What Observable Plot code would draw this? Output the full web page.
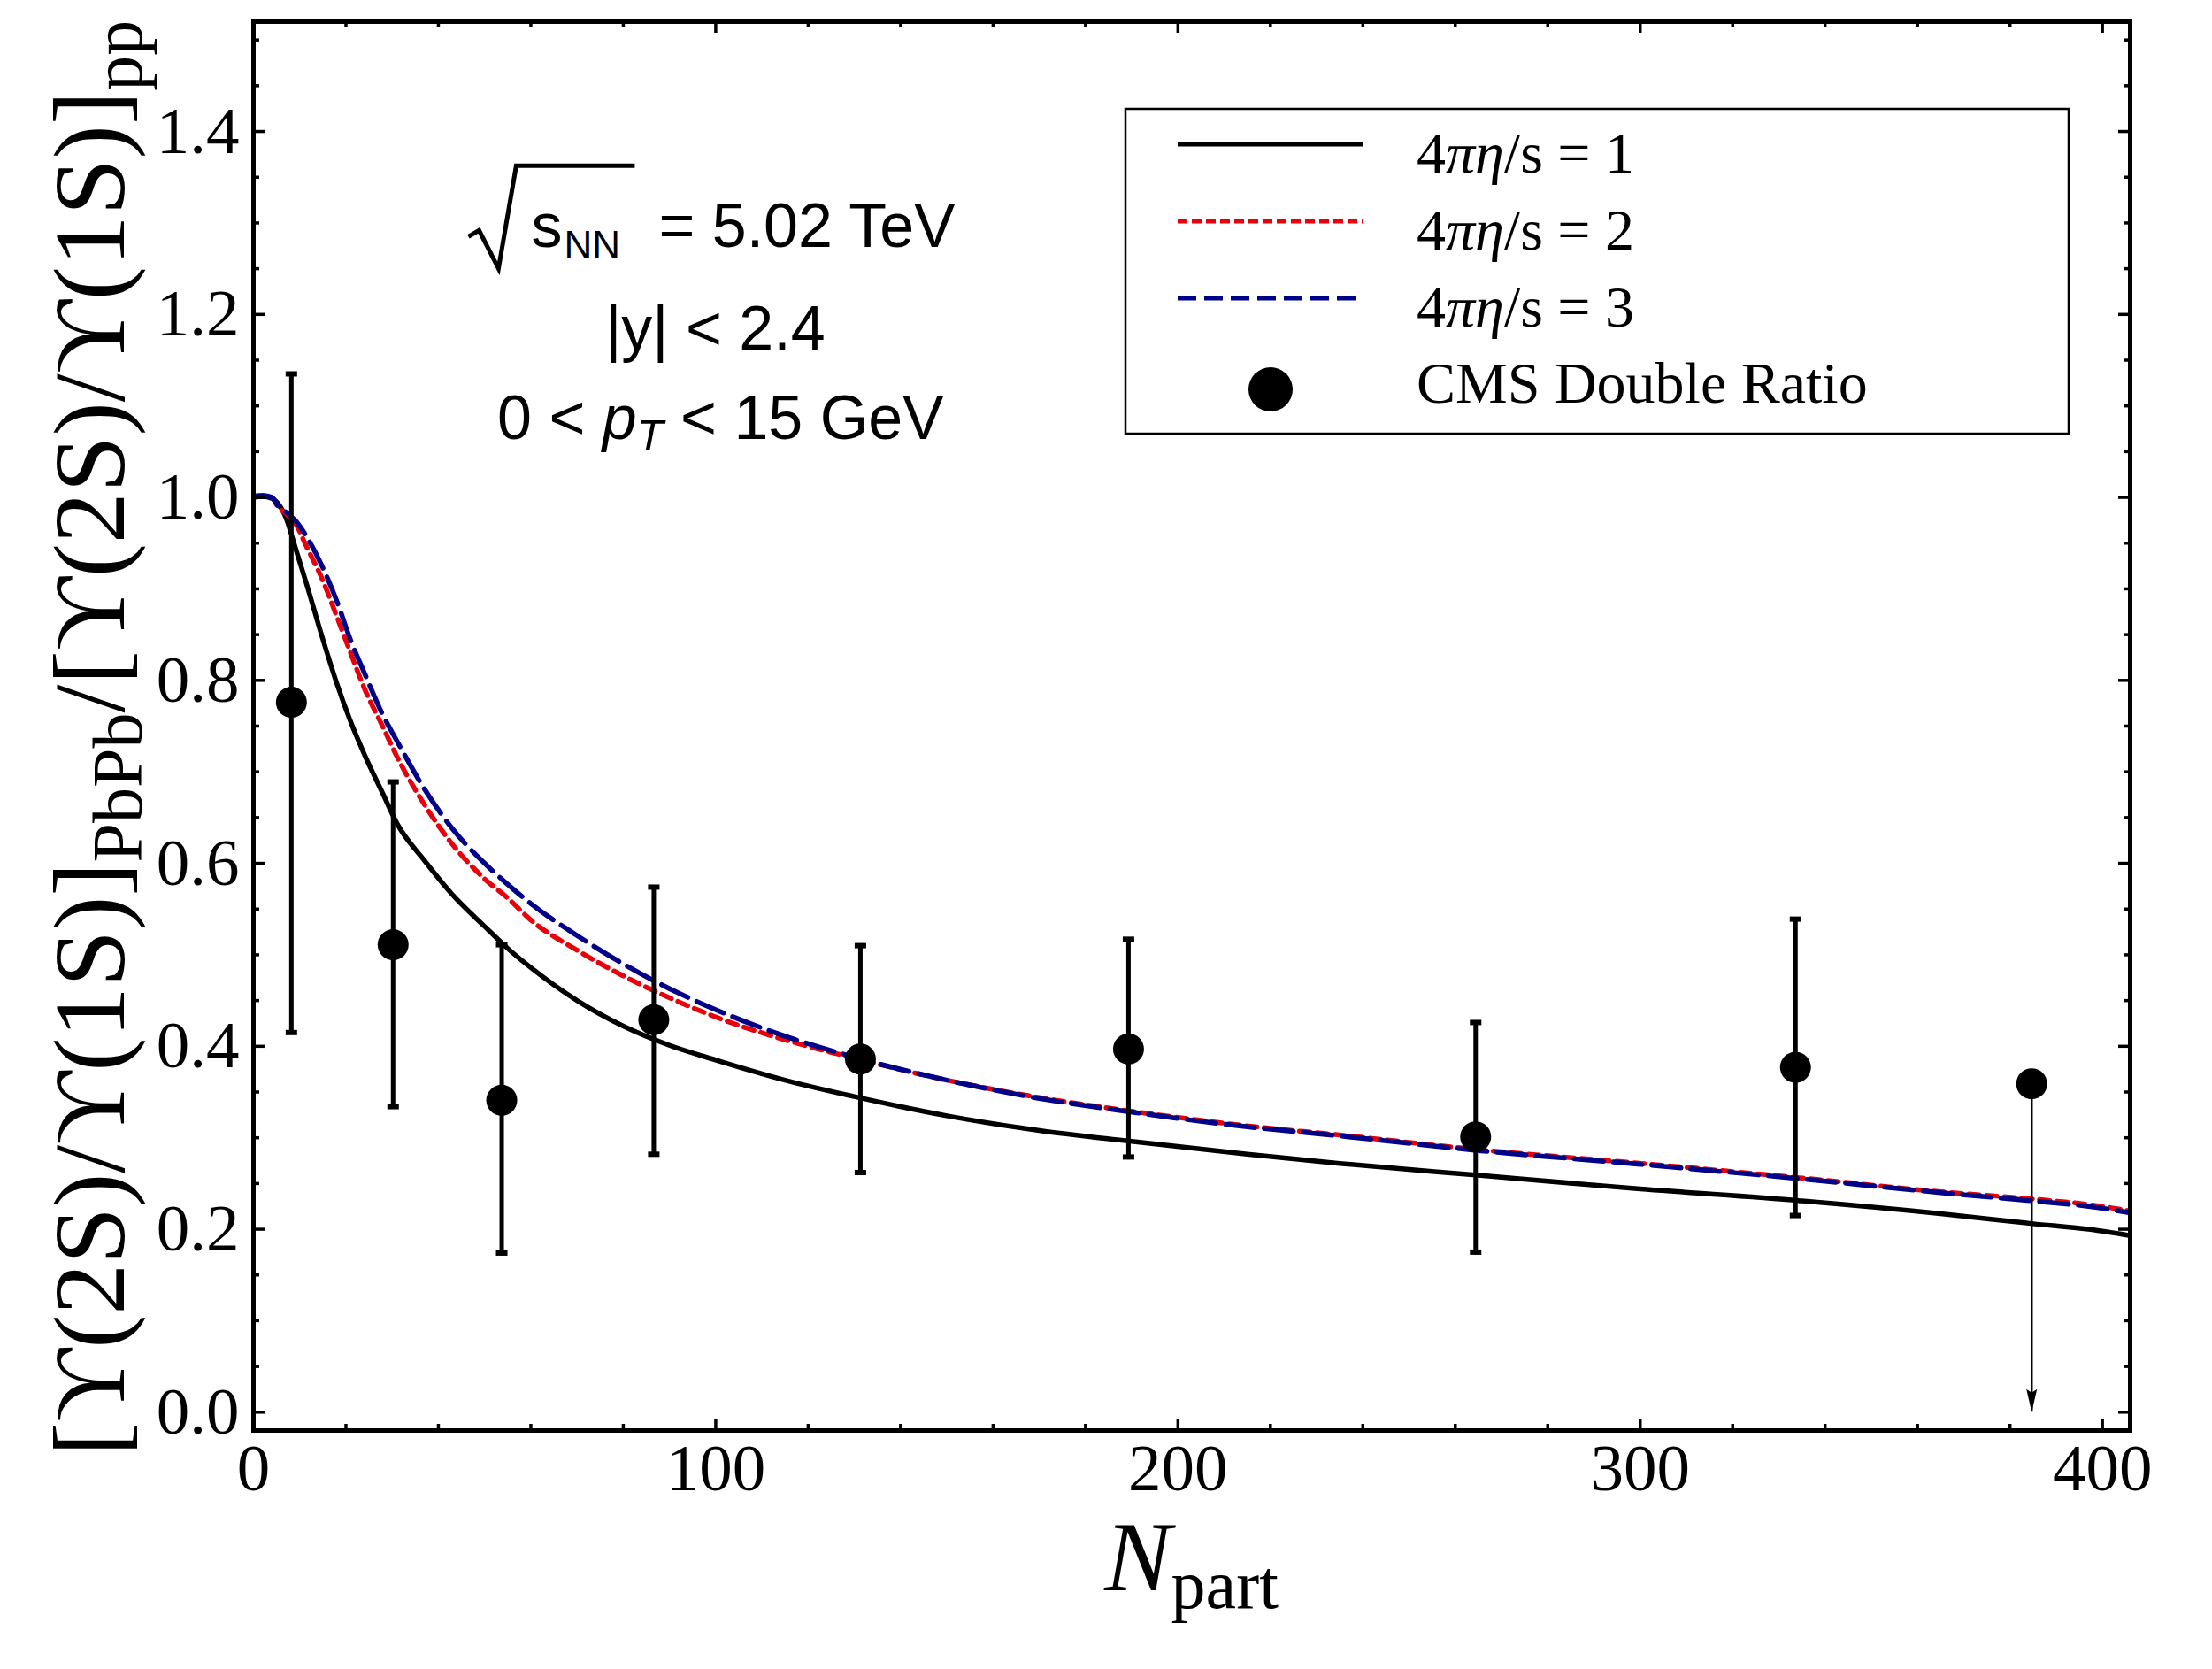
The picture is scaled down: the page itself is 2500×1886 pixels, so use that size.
<!DOCTYPE html>
<html>
<head>
<meta charset="utf-8">
<script src="https://cdn.jsdelivr.net/npm/d3@7"></script>
<script src="https://cdn.jsdelivr.net/npm/@observablehq/plot@0.6"></script>
<style>
  html, body { margin: 0; padding: 0; background: #fff; }
  #chart svg { display: block; }
</style>
</head>
<body>
<div id="chart"></div>
<script>
// Model curves: [Υ(2S)/Υ(1S)]_PbPb / [Υ(2S)/Υ(1S)]_pp versus N_part for 4πη/s = 1, 2, 3
const curveNpart = [0, 2, 4, 5, 7, 9, 11.5, 15, 18, 21, 24, 28, 31, 37, 43, 50, 55, 60, 70, 80, 90, 100, 115, 130, 150, 170, 190, 215, 235, 265, 300, 335, 365, 385, 397, 406];
const ratioEtaS1 = [1.000, 1.001, 0.999, 0.995, 0.978, 0.946, 0.905, 0.845, 0.797, 0.755, 0.719, 0.676, 0.644, 0.603, 0.566, 0.531, 0.507, 0.486, 0.450, 0.422, 0.401, 0.385, 0.363, 0.345, 0.324, 0.308, 0.296, 0.282, 0.272, 0.259, 0.244, 0.231, 0.217, 0.206, 0.200, 0.193];
const ratioEtaS2 = [1.001, 1.002, 1.000, 0.992, 0.982, 0.972, 0.946, 0.909, 0.870, 0.830, 0.791, 0.749, 0.717, 0.664, 0.621, 0.583, 0.562, 0.538, 0.505, 0.477, 0.453, 0.432, 0.407, 0.387, 0.363, 0.344, 0.329, 0.313, 0.303, 0.287, 0.272, 0.256, 0.241, 0.233, 0.227, 0.220];
const ratioEtaS3 = [1.001, 1.002, 1.000, 0.993, 0.984, 0.975, 0.957, 0.923, 0.887, 0.844, 0.808, 0.762, 0.734, 0.681, 0.638, 0.600, 0.577, 0.556, 0.521, 0.490, 0.463, 0.440, 0.411, 0.388, 0.363, 0.343, 0.328, 0.312, 0.302, 0.286, 0.271, 0.255, 0.240, 0.231, 0.225, 0.218];
const etaSValues = ["1", "2", "3"];

// CMS double ratio measurements (last centrality bin is an upper limit)
const cmsNpart = [8.2, 30.2, 53.7, 86.6, 131.3, 189.3, 264.4, 333.6, 384.7];
const cmsRatio = [0.776, 0.511, 0.341, 0.429, 0.386, 0.397, 0.301, 0.377, 0.359];
const cmsErrHigh = [1.135, 0.689, 0.511, 0.574, 0.510, 0.517, 0.426, 0.539, null];
const cmsErrLow = [0.415, 0.334, 0.174, 0.282, 0.262, 0.279, 0.175, 0.215, null];
const cmsUpperLimit = [false, false, false, false, false, false, false, false, true];

// Axis ticks
const xTicksMajor = [0, 100, 200, 300, 400];
const yTicksMajor = [0, 0.2, 0.4, 0.6, 0.8, 1.0, 1.2, 1.4];
const xDomain = [0, 406];
const yDomain = [-0.02, 1.52];

const xTicksMinor = d3.range(20, 406, 20).filter(v => v % 100 !== 0);
const yTicksMinor = d3.range(1, 31).map(k => k * 0.05).filter(v => Math.abs(v / 0.2 - Math.round(v / 0.2)) > 1e-6);

const RED = "#e8000b";
const BLUE = "#000088";

const cms = cmsNpart.map((n, i) => ({
  npart: n, ratio: cmsRatio[i], hi: cmsErrHigh[i], lo: cmsErrLow[i], limit: cmsUpperLimit[i]
}));
const measured = cms.filter(d => !d.limit);
const limits = cms.filter(d => d.limit);

// layout
const W = 2500, H = 1886;
const M = {top: 24, right: 93, bottom: 270, left: 286};
const frameW = W - M.left - M.right;
const frameH = H - M.top - M.bottom;
const majorLen = 13, minorLen = 7;
const LINE_W = 5.5;

// symbols: flat error-bar cap and a narrow arrowhead pointing down
const capSymbol = {draw(ctx) { ctx.rect(-6.5, -3, 13, 6); }};
const arrowHead = {draw(ctx) { ctx.moveTo(0, 0); ctx.lineTo(-6, -26); ctx.lineTo(0, -22); ctx.lineTo(6, -26); ctx.closePath(); }};

const tickStyle = {stroke: "black", strokeWidth: 3.5};

const chart = Plot.plot({
  width: W,
  height: H,
  marginTop: M.top,
  marginRight: M.right,
  marginBottom: M.bottom,
  marginLeft: M.left,
  style: {fontFamily: "'Liberation Serif', 'Times New Roman', serif", fontSize: "75px", color: "black", background: "white"},
  x: {domain: xDomain, axis: null},
  y: {domain: yDomain, axis: null},
  marks: [
    // model curves
    Plot.line(curveNpart, {x: d => d, y: (d, i) => ratioEtaS1[i], stroke: "black", strokeWidth: LINE_W, curve: "monotone-x", clip: true}),
    Plot.line(curveNpart, {x: d => d, y: (d, i) => ratioEtaS2[i], stroke: RED, strokeWidth: LINE_W, strokeDasharray: "12,8", curve: "monotone-x", clip: true}),
    Plot.line(curveNpart, {x: d => d, y: (d, i) => ratioEtaS3[i], stroke: BLUE, strokeWidth: LINE_W, strokeDasharray: "33,11", curve: "monotone-x", clip: true}),

    // CMS error bars with caps
    Plot.ruleX(measured, {x: "npart", y1: "lo", y2: "hi", stroke: "black", strokeWidth: 5}),
    Plot.dot(measured, {x: "npart", y: "hi", symbol: capSymbol, fill: "black"}),
    Plot.dot(measured, {x: "npart", y: "lo", symbol: capSymbol, fill: "black"}),

    // upper limit drawn as an arrow down to zero
    Plot.ruleX(limits, {x: "npart", y1: 0, y2: "ratio", stroke: "black", strokeWidth: 2.5}),
    Plot.dot(limits, {x: "npart", y: 0, symbol: arrowHead, fill: "black"}),

    // CMS points
    Plot.dot(cms, {x: "npart", y: "ratio", r: 17.5, fill: "black"}),

    // inward ticks on all four sides
    Plot.tickX(xTicksMajor, {x: d => d, insetTop: frameH - majorLen, ...tickStyle}),
    Plot.tickX(xTicksMinor, {x: d => d, insetTop: frameH - minorLen, ...tickStyle}),
    Plot.tickX(xTicksMajor, {x: d => d, insetBottom: frameH - majorLen, ...tickStyle}),
    Plot.tickX(xTicksMinor, {x: d => d, insetBottom: frameH - minorLen, ...tickStyle}),
    Plot.tickY(yTicksMajor, {y: d => d, insetRight: frameW - majorLen, ...tickStyle}),
    Plot.tickY(yTicksMinor, {y: d => d, insetRight: frameW - minorLen, ...tickStyle}),
    Plot.tickY(yTicksMajor, {y: d => d, insetLeft: frameW - majorLen, ...tickStyle}),
    Plot.tickY(yTicksMinor, {y: d => d, insetLeft: frameW - minorLen, ...tickStyle}),

    // tick labels
    Plot.axisX({ticks: xTicksMajor, tickSize: 0, tickPadding: 14, tickFormat: d => String(d), label: null}),
    Plot.axisY({ticks: yTicksMajor, tickSize: 0, tickPadding: 16, tickFormat: d3.format(".1f"), label: null}),

    Plot.frame({stroke: "black", strokeWidth: 5})
  ]
});

document.getElementById("chart").appendChild(chart);

const svg = d3.select(chart);
const sx = chart.scale("x"), sy = chart.scale("y");
const SERIF = "'Liberation Serif', 'Times New Roman', serif";
const SANS = "'Liberation Sans', Arial, Helvetica, sans-serif";

// y-axis title
{
  const t = svg.append("text")
    .attr("transform", `translate(140, ${M.top + frameH / 2 + 14}) rotate(-90)`)
    .attr("text-anchor", "middle")
    .attr("font-family", SERIF)
    .attr("font-size", 115)
    .attr("fill", "black");
  t.append("tspan").text("[ϒ(2S)/ϒ(1S)]");
  t.append("tspan").attr("font-size", 80).attr("dy", 20).text("PbPb");
  t.append("tspan").attr("dy", -20).text("/[ϒ(2S)/ϒ(1S)]");
  t.append("tspan").attr("font-size", 80).attr("dy", 20).text("pp");
}

// x-axis title
{
  const t = svg.append("text")
    .attr("x", M.left + frameW / 2)
    .attr("y", 1797)
    .attr("text-anchor", "middle")
    .attr("font-family", SERIF)
    .attr("font-size", 113)
    .attr("fill", "black");
  t.append("tspan").attr("font-style", "italic").text("N");
  t.append("tspan").attr("font-size", 78).attr("dy", 20).text("part");
}

// collision system annotation, centred on N_part = 100
{
  const cx = sx.apply(100);
  const yb = [sy.apply(1.273), sy.apply(1.161), sy.apply(1.063)];
  const g = svg.append("g").attr("font-family", SANS).attr("fill", "black").attr("text-anchor", "start");

  // √s_NN = 5.02 TeV
  g.append("path")
    .attr("d", `M${cx - 279},${yb[0] - 12} L${cx - 267},${yb[0] - 19} L${cx - 245},${yb[0] + 24} L${cx - 225},${yb[0] - 92} L${cx - 91},${yb[0] - 92}`)
    .attr("fill", "none").attr("stroke", "black").attr("stroke-width", 5).attr("stroke-linejoin", "miter");
  g.append("text").attr("x", cx - 208).attr("y", yb[0]).attr("font-size", 70).text("s");
  g.append("text").attr("x", cx - 171).attr("y", yb[0] + 13).attr("font-size", 44).text("NN");
  g.append("text").attr("x", cx - 64).attr("y", yb[0]).attr("font-size", 70).text("= 5.02 TeV");

  // |y| < 2.4
  g.append("text").attr("x", cx).attr("y", yb[1]).attr("font-size", 70).attr("text-anchor", "middle").text("|y| < 2.4");

  // 0 < p_T < 15 GeV
  const t3 = g.append("text").attr("x", cx + 6).attr("y", yb[2]).attr("font-size", 70).attr("text-anchor", "middle");
  t3.append("tspan").text("0 < ");
  t3.append("tspan").attr("font-style", "italic").text("p");
  t3.append("tspan").attr("font-style", "italic").attr("font-size", 49).attr("dy", 12).text("T");
  t3.append("tspan").attr("dy", -12).text(" < 15 GeV");
}

// legend
{
  const box = {x: 1272, y: 123, w: 1066, h: 367};
  const g = svg.append("g").attr("font-family", SERIF).attr("fill", "black").attr("text-anchor", "start");
  g.append("rect")
    .attr("x", box.x).attr("y", box.y).attr("width", box.w).attr("height", box.h)
    .attr("fill", "white").attr("stroke", "black").attr("stroke-width", 2.5);

  const rowY = [163, 250, 337];
  const lineStyles = [
    {stroke: "black", dash: null},
    {stroke: RED, dash: "11,5"},
    {stroke: BLUE, dash: "21,9"}
  ];
  etaSValues.forEach((v, i) => {
    g.append("line")
      .attr("x1", 1331).attr("x2", 1541).attr("y1", rowY[i]).attr("y2", rowY[i])
      .attr("stroke", lineStyles[i].stroke).attr("stroke-width", 5)
      .attr("stroke-dasharray", lineStyles[i].dash);
    const t = g.append("text").attr("x", 1601).attr("y", rowY[i] + 32).attr("font-size", 66);
    t.append("tspan").text("4");
    t.append("tspan").attr("font-style", "italic").text("πη");
    t.append("tspan").text("/s = " + v);
  });

  g.append("circle").attr("cx", 1436).attr("cy", 440).attr("r", 25).attr("fill", "black");
  g.append("text").attr("x", 1601).attr("y", 455).attr("font-size", 66).text("CMS Double Ratio");
}
</script>
</body>
</html>
